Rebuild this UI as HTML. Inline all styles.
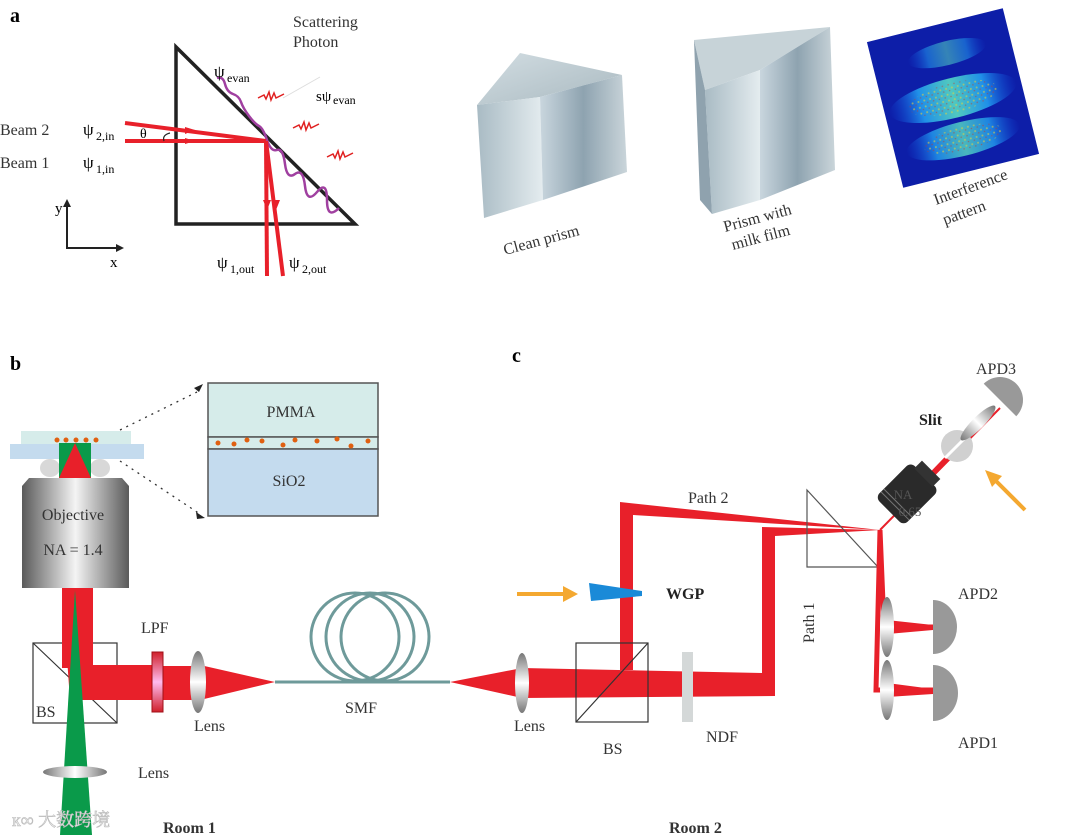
<!DOCTYPE html>
<html><head><meta charset="utf-8"><style>
html,body{margin:0;padding:0;background:#fff;}
svg{display:block;font-family:"Liberation Serif","Noto Serif CJK SC",serif;}
</style></head><body>
<svg width="1080" height="835" viewBox="0 0 1080 835" xmlns="http://www.w3.org/2000/svg">
<defs>
<linearGradient id="gObj" x1="0" x2="1"><stop offset="0" stop-color="#5a5a5a"/><stop offset="0.5" stop-color="#f4f4f4"/><stop offset="1" stop-color="#5a5a5a"/></linearGradient>
<linearGradient id="gLensV" x1="0" x2="0" y1="0" y2="1"><stop offset="0" stop-color="#777"/><stop offset="0.5" stop-color="#fff"/><stop offset="1" stop-color="#777"/></linearGradient>
<linearGradient id="gLensH" x1="0" x2="1"><stop offset="0" stop-color="#777"/><stop offset="0.5" stop-color="#fff"/><stop offset="1" stop-color="#777"/></linearGradient>
<linearGradient id="gLPF" x1="0" x2="0" y1="0" y2="1"><stop offset="0" stop-color="#d0202a"/><stop offset="0.5" stop-color="#fbe"/><stop offset="1" stop-color="#d0202a"/></linearGradient>
<linearGradient id="gPr1" x1="0" x2="1" y1="0" y2="1"><stop offset="0" stop-color="#d2dde2"/><stop offset="1" stop-color="#a9b9c0"/></linearGradient>
<linearGradient id="gPr2" x1="0" x2="1"><stop offset="0" stop-color="#a9bbc4"/><stop offset="1" stop-color="#e4ecef"/></linearGradient>
<linearGradient id="gPr3" x1="0" x2="1"><stop offset="0" stop-color="#c9d6de"/><stop offset="0.5" stop-color="#8ea3b0"/><stop offset="1" stop-color="#cad5da"/></linearGradient>
<linearGradient id="gBand" x1="0" x2="1"><stop offset="0" stop-color="#1050e0" stop-opacity="0"/><stop offset="0.25" stop-color="#2090e8"/><stop offset="0.5" stop-color="#50c8c0"/><stop offset="0.75" stop-color="#2090e8"/><stop offset="1" stop-color="#1050e0" stop-opacity="0"/></linearGradient>
<pattern id="speck" width="6" height="6" patternUnits="userSpaceOnUse"><rect width="6" height="6" fill="none"/><circle cx="1.5" cy="1.5" r="1" fill="#e0d040" opacity="0.6"/><circle cx="4.5" cy="4" r="0.8" fill="#d03020" opacity="0.5"/></pattern>
</defs>

<!-- Panel a -->
<text x="10" y="22" font-size="20" font-weight="bold">a</text>
<text x="293" y="27" font-size="16" fill="#333">Scattering</text>
<text x="293" y="47" font-size="16" fill="#333">Photon</text>
<polygon points="176,47 176,224 355,224" fill="none" stroke="#222" stroke-width="3.5"/>
<path d="M217,78 q6,-2 8,6 t8,10 t8,8 t8,14 t10,10 t8,14 t10,10 t8,14 t10,10 t10,12 t12,6 t10,8 t12,8" fill="none" stroke="#a040a0" stroke-width="2.5"/>
<g stroke="#e02020" stroke-width="1.5" fill="none">
<path d="M258,98 l6,-3 l2,4 l3,-7 l2,8 l3,-7 l2,5 l8,-4"/>
<path d="M293,128 l6,-3 l2,4 l3,-7 l2,8 l3,-7 l2,5 l8,-4"/>
<path d="M327,157 l6,-3 l2,4 l3,-7 l2,8 l3,-7 l2,5 l8,-4"/>
</g>
<line x1="283" y1="98" x2="320" y2="77" stroke="#ddd" stroke-width="1"/>
<text x="214" y="77" font-size="17">ψ</text><text x="227" y="82" font-size="12">evan</text>
<text x="316" y="101" font-size="15">sψ</text><text x="333" y="104" font-size="12">evan</text>
<g stroke="#e8202a" stroke-width="4" fill="none">
<line x1="125" y1="123" x2="266" y2="141"/>
<line x1="125" y1="141" x2="266" y2="141"/>
<line x1="266" y1="141" x2="267" y2="276"/>
<line x1="266" y1="141" x2="283" y2="276"/>
</g>
<polygon points="185,127 195,130 185,134" fill="#e8202a"/>
<polygon points="185,138 195,141 185,144" fill="#e8202a"/>
<polygon points="263,200 267,210 271,200" fill="#e8202a"/>
<polygon points="271,200 276,210 280,200" fill="#e8202a"/>
<path d="M170,133 q-8,2 -6,8" fill="none" stroke="#222" stroke-width="1.2"/>
<text x="140" y="138" font-size="14">θ</text>
<text x="0" y="135" font-size="16" fill="#333">Beam 2</text>
<text x="83" y="135" font-size="17">ψ</text><text x="96" y="140" font-size="12">2,in</text>
<text x="0" y="168" font-size="16" fill="#333">Beam 1</text>
<text x="83" y="168" font-size="17">ψ</text><text x="96" y="173" font-size="12">1,in</text>
<path d="M67,204 V248 H118" fill="none" stroke="#222" stroke-width="2"/>
<polygon points="63,207 67,199 71,207" fill="#222"/><polygon points="116,244 124,248 116,252" fill="#222"/>
<text x="55" y="213" font-size="15">y</text><text x="110" y="267" font-size="15">x</text>
<text x="217" y="268" font-size="17">ψ</text><text x="230" y="273" font-size="12">1,out</text>
<text x="289" y="268" font-size="17">ψ</text><text x="302" y="273" font-size="12">2,out</text>

<!-- photos -->
<polygon points="477,105 520,53 622,75 540,97" fill="url(#gPr1)"/>
<polygon points="477,105 540,97 543,200 484,218" fill="url(#gPr2)"/>
<polygon points="540,97 622,75 627,172 543,200" fill="url(#gPr3)"/>
<text x="0" y="0" font-size="16" fill="#333" transform="translate(505,255) rotate(-15)">Clean prism</text>
<polygon points="694,40 830,27 760,70 705,90" fill="#c7d3d8"/>
<polygon points="705,90 760,70 760,200 712,214" fill="url(#gPr2)"/>
<polygon points="694,40 705,90 712,214 700,200" fill="#8fa2ae"/>
<polygon points="760,70 830,27 835,170 760,200" fill="url(#gPr3)"/>
<text x="0" y="0" font-size="16" fill="#333" transform="translate(725,232) rotate(-15)">Prism with</text>
<text x="0" y="0" font-size="16" fill="#333" transform="translate(733,250) rotate(-15)">milk film</text>
<g transform="translate(953,98) rotate(-14)">
<rect x="-70" y="-75" width="140" height="150" fill="#0d1ea8"/>
<ellipse cx="5" cy="-45" rx="40" ry="12" fill="url(#gBand)" opacity="0.6"/>
<ellipse cx="0" cy="0" rx="65" ry="20" fill="url(#gBand)"/>
<ellipse cx="0" cy="0" rx="45" ry="15" fill="url(#speck)"/>
<ellipse cx="0" cy="42" rx="58" ry="17" fill="url(#gBand)" opacity="0.9"/>
<ellipse cx="0" cy="42" rx="40" ry="12" fill="url(#speck)"/>
</g>
<text x="0" y="0" font-size="16" fill="#333" transform="translate(936,205) rotate(-20)">Interference</text>
<text x="0" y="0" font-size="16" fill="#333" transform="translate(945,225) rotate(-20)">pattern</text>

<!-- Panel b -->
<text x="10" y="370" font-size="20" font-weight="bold">b</text>
<rect x="21" y="431" width="110" height="14" fill="#d6ecea"/>
<rect x="10" y="444" width="134" height="15" fill="#c4dbee"/>
<ellipse cx="50" cy="468" rx="10" ry="9" fill="#d8d8d8"/><ellipse cx="100" cy="468" rx="10" ry="9" fill="#d8d8d8"/>
<rect x="59" y="443" width="32" height="35" fill="#0a9a4a"/>
<polygon points="59,478 75,443 91,478" fill="#e8202a"/>
<g fill="#e06010"><circle cx="57" cy="440" r="2.5"/><circle cx="66" cy="440" r="2.5"/><circle cx="76" cy="440" r="2.5"/><circle cx="86" cy="440" r="2.5"/><circle cx="96" cy="440" r="2.5"/></g>
<polygon points="29,478 122,478 129,486 129,588 22,588 22,486" fill="url(#gObj)"/>
<text x="73" y="520" font-size="16" text-anchor="middle" fill="#333">Objective</text>
<text x="73" y="555" font-size="16" text-anchor="middle" fill="#333">NA = 1.4</text>
<rect x="208" y="383" width="170" height="54" fill="#d6ecea" stroke="#555" stroke-width="1.5"/>
<rect x="208" y="437" width="170" height="12" fill="#d6ecea" stroke="#555" stroke-width="1.5"/>
<rect x="208" y="449" width="170" height="67" fill="#c4dbee" stroke="#555" stroke-width="1.5"/>
<text x="291" y="417" font-size="16" text-anchor="middle" fill="#333">PMMA</text>
<text x="289" y="486" font-size="16" text-anchor="middle" fill="#333">SiO2</text>
<g fill="#e06010"><circle cx="218" cy="443" r="2.5"/><circle cx="234" cy="444" r="2.5"/><circle cx="247" cy="440" r="2.5"/><circle cx="262" cy="441" r="2.5"/><circle cx="283" cy="445" r="2.5"/><circle cx="295" cy="440" r="2.5"/><circle cx="317" cy="441" r="2.5"/><circle cx="337" cy="439" r="2.5"/><circle cx="351" cy="446" r="2.5"/><circle cx="368" cy="441" r="2.5"/></g>
<g stroke="#333" stroke-width="1.3" stroke-dasharray="2,5" fill="none"><line x1="120" y1="430" x2="197" y2="392"/><line x1="120" y1="461" x2="200" y2="514"/></g>
<polygon points="194,388 203,384 199,392" fill="#222"/><polygon points="196,512 205,518 197,519" fill="#222"/>

<rect x="33" y="643" width="84" height="80" fill="none" stroke="#333" stroke-width="1.2"/>
<line x1="33" y1="643" x2="117" y2="723" stroke="#333" stroke-width="1.2"/>
<rect x="62" y="588" width="31" height="80" fill="#e8202a"/>
<polygon points="62,588 93,588 93,665 152,665 152,700 70,700" fill="#e8202a"/>
<rect x="152" y="666" width="50" height="34" fill="#e8202a"/>
<polygon points="200,665 275,682 200,700" fill="#e8202a"/>
<polygon points="75,590 92,835 60,835" fill="#0a9a4a"/>
<ellipse cx="75" cy="772" rx="32" ry="6" fill="url(#gLensH)"/>
<rect x="152" y="652" width="11" height="60" fill="url(#gLPF)" stroke="#a01018"/>
<ellipse cx="198" cy="682" rx="8" ry="31" fill="url(#gLensV)"/>
<text x="36" y="717" font-size="16" fill="#333">BS</text>
<text x="141" y="633" font-size="16" fill="#333">LPF</text>
<text x="194" y="731" font-size="16" fill="#333">Lens</text>
<text x="138" y="778" font-size="16" fill="#333">Lens</text>
<text x="163" y="833" font-size="16" font-weight="bold" fill="#333">Room  1</text>
<g fill="none" stroke="#6e9a9a" stroke-width="3"><circle cx="355" cy="637" r="44"/><circle cx="370" cy="637" r="44"/><circle cx="385" cy="637" r="44"/></g>
<line x1="275" y1="682" x2="450" y2="682" stroke="#6e9a9a" stroke-width="3"/>
<text x="345" y="713" font-size="16" fill="#333">SMF</text>
<text x="12" y="826" font-size="18" fill="#eee" stroke="#bbb" stroke-width="0.6">к∞ 大数跨境</text>

<!-- Panel c -->
<text x="512" y="362" font-size="20" font-weight="bold">c</text>
<polygon points="450,682 522,668 522,698" fill="#e8202a"/>
<polygon points="522,668 762,673 775,673 775,696 522,698" fill="#e8202a"/>
<polygon points="620,670 620,502 880,530 633,515 633,670" fill="#e8202a"/>
<polygon points="762,690 762,527 880,530 775,536 775,690" fill="#e8202a"/>
<ellipse cx="522" cy="683" rx="7" ry="30" fill="url(#gLensV)"/>
<rect x="576" y="643" width="72" height="79" fill="none" stroke="#333" stroke-width="1.2"/>
<line x1="576" y1="722" x2="648" y2="643" stroke="#333" stroke-width="1.2"/>
<rect x="682" y="652" width="11" height="70" fill="#d4d8d8"/>
<polygon points="807,490 807,567 878,567" fill="none" stroke="#555" stroke-width="1.2"/>
<g fill="none" stroke="#e8202a" stroke-width="5">
<path d="M880,530 L884,627 L940,627"/>
<path d="M880,530 L876,690 L940,690"/>
</g>
<polygon points="887,620 933,625 933,630 887,634" fill="#e8202a"/>
<polygon points="887,683 933,689 933,694 887,697" fill="#e8202a"/>
<ellipse cx="887" cy="627" rx="7" ry="30" fill="url(#gLensV)"/>
<ellipse cx="887" cy="690" rx="7" ry="30" fill="url(#gLensV)"/>
<path d="M933,600 a24,27 0 0 1 0,54 z" fill="#999"/>
<path d="M933,665 a25,28 0 0 1 0,56 z" fill="#999"/>
<text x="958" y="599" font-size="16" fill="#333">APD2</text>
<text x="958" y="748" font-size="16" fill="#333">APD1</text>
<line x1="880" y1="530" x2="1000" y2="408" stroke="#e8202a" stroke-width="2"/>
<line x1="930" y1="476" x2="955" y2="450" stroke="#e8202a" stroke-width="5"/>
<g transform="translate(905,496) rotate(45)">
<rect x="-20" y="-28" width="40" height="50" rx="6" fill="#2a2a2a"/>
<rect x="-13" y="-37" width="26" height="11" fill="#333"/>
<line x1="-20" y1="10" x2="20" y2="10" stroke="#777"/><line x1="-20" y1="14" x2="20" y2="14" stroke="#777"/>
</g>
<text x="903" y="499" font-size="13" fill="#555" text-anchor="middle">NA</text>
<text x="910" y="516" font-size="13" fill="#555" text-anchor="middle">0.65</text>
<circle cx="957" cy="446" r="16" fill="#d0d0d0"/>
<line x1="945" y1="458" x2="969" y2="434" stroke="#fff" stroke-width="3"/>
<g transform="translate(978,423) rotate(45)"><ellipse cx="0" cy="0" rx="6" ry="24" fill="url(#gLensV)"/></g>
<g transform="translate(1000,400) rotate(45)"><path d="M-23,0 a23,23 0 0 1 46,0 z" fill="#999"/></g>
<text x="976" y="374" font-size="16" fill="#333">APD3</text>
<text x="919" y="425" font-size="16" font-weight="bold" fill="#222">Slit</text>
<line x1="1025" y1="510" x2="995" y2="480" stroke="#f4a830" stroke-width="4"/>
<polygon points="985,470 1002,476 992,487" fill="#f4a830"/>
<line x1="517" y1="594" x2="565" y2="594" stroke="#f4a830" stroke-width="4"/>
<polygon points="563,586 578,594 563,602" fill="#f4a830"/>
<polygon points="589,583 642,591 642,596 591,601" fill="#1a8ad8"/>
<text x="666" y="599" font-size="16" font-weight="bold" fill="#222">WGP</text>
<text x="688" y="503" font-size="16" fill="#333">Path 2</text>
<text x="0" y="0" font-size="16" fill="#333" transform="translate(814,643) rotate(-90)">Path 1</text>
<text x="514" y="731" font-size="16" fill="#333">Lens</text>
<text x="603" y="754" font-size="16" fill="#333">BS</text>
<text x="706" y="742" font-size="16" fill="#333">NDF</text>
<text x="669" y="833" font-size="16" font-weight="bold" fill="#333">Room  2</text>
</svg>
</body></html>
